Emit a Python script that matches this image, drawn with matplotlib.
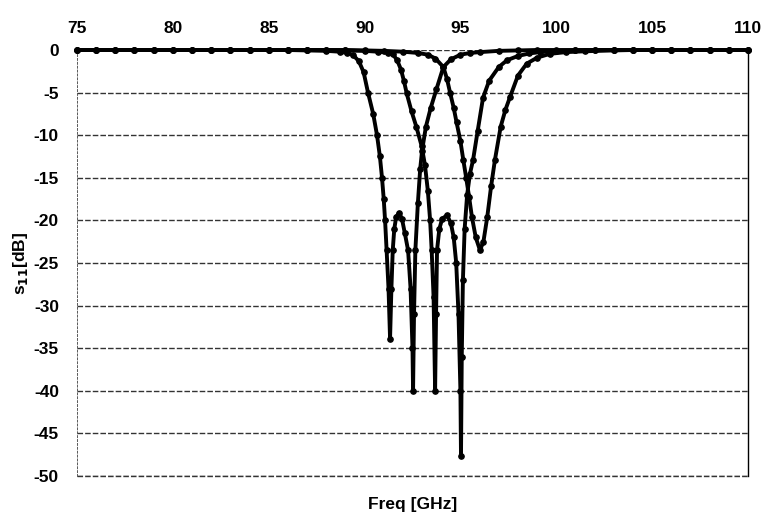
"""S11 response of three filter designs, redrawn from a scanned plot."""
import matplotlib
matplotlib.use("Agg")
import matplotlib.pyplot as plt

plt.rcParams["font.family"] = ["Liberation Sans", "DejaVu Sans"]
plt.rcParams["mathtext.default"] = "bf"
plt.rcParams["axes.unicode_minus"] = False

# curve A: two-pole response, dips near 91.3 and 92.5 GHz
freq_a = [75, 76, 77, 78, 79, 80, 81, 82, 83, 84, 85, 86, 87, 88, 88.7, 89.1,
          89.4, 89.7, 89.95, 90.18, 90.45, 90.65, 90.8, 90.91, 91.0, 91.07,
          91.15, 91.25, 91.33, 91.4, 91.47, 91.55, 91.65, 91.8, 91.95, 92.1,
          92.27, 92.4, 92.5, 92.53, 92.58, 92.65, 92.78, 92.9, 93.0, 93.2,
          93.45, 93.75, 94.11, 94.5, 95.0, 95.5, 96, 97, 98, 99, 100, 101, 102,
          103, 104, 105, 106, 107, 108, 109, 110]
s11_a = [0, 0, 0, 0, 0, 0, 0, 0, 0, 0, 0, 0, -0.05, -0.1, -0.2, -0.35,
         -0.6, -1.3, -2.6, -5, -7.5, -10, -12.5, -15, -17.5, -20,
         -23.5, -28, -33.9, -28, -23.5, -21, -19.6, -19.1, -19.8, -21.5,
         -23.5, -28, -35, -40, -31, -23.5, -18, -14, -11.8, -9,
         -6.8, -4.6, -2.0, -1.1, -0.55, -0.35, -0.25, -0.1, -0.05, 0, 0, 0, 0,
         0, 0, 0, 0, 0, 0, 0, 0]

# curve B: two-pole response, dips near 93.7 and 95.0 GHz
freq_b = [75, 76, 77, 78, 79, 80, 81, 82, 83, 84, 85, 86, 87, 88, 89, 90,
          90.7, 91.2, 91.48, 91.7, 91.9, 92.05, 92.2, 92.45, 92.7, 92.98,
          93.15, 93.3, 93.42, 93.5, 93.6, 93.68, 93.73, 93.78, 93.9, 94.05,
          94.3, 94.5, 94.65, 94.78, 94.9, 95.0, 95.03, 95.07, 95.13, 95.22,
          95.35, 95.5, 95.66, 95.9, 96.18, 96.5, 97.0, 97.43, 98, 98.6, 99.15,
          100, 101, 102, 103, 104, 105, 106, 107, 108, 109, 110]
s11_b = [0, 0, 0, 0, 0, 0, 0, 0, 0, 0, 0, 0, 0, 0, -0.05, -0.1,
         -0.2, -0.3, -0.5, -1.2, -2.3, -3.6, -5.1, -7.2, -9.0, -11.3,
         -13.5, -16.5, -20, -23.5, -29, -40, -31, -23.5, -21, -19.8,
         -19.4, -20.3, -22, -25, -31, -40, -47.7, -36, -27, -21,
         -17, -14.5, -12.9, -9.5, -5.6, -3.6, -2.0, -1.2, -0.7, -0.4, -0.25,
         -0.1, -0.05, 0, 0, 0, 0, 0, 0, 0, 0, 0]

# curve C: single resonance near 96 GHz
freq_c = [75, 76, 77, 78, 79, 80, 81, 82, 83, 84, 85, 86, 87, 88, 89, 90,
          91, 92, 92.8, 93.3, 93.7, 94.11, 94.3, 94.46, 94.65, 94.8, 95.0,
          95.15, 95.3, 95.45, 95.6, 95.8, 96.02, 96.2, 96.4, 96.6, 96.8, 97.1,
          97.35, 97.59, 98.0, 98.46, 99.0, 99.67, 100.5, 101.5, 103, 104, 105,
          106, 107, 108, 109, 110]
s11_c = [0, 0, 0, 0, 0, 0, 0, 0, 0, 0, 0, 0, 0, 0, 0, -0.05,
         -0.1, -0.2, -0.35, -0.55, -1.0, -2.0, -3.4, -5, -6.8, -8.5, -10.7,
         -12.9, -15, -17.2, -19.6, -22, -23.5, -22.5, -19.6, -16, -12.9, -9,
         -7, -5.5, -3, -1.6, -0.9, -0.45, -0.25, -0.15, -0.05, 0, 0,
         0, 0, 0, 0, 0]

x_ticks = [75, 80, 85, 90, 95, 100, 105, 110]
y_ticks = [0, -5, -10, -15, -20, -25, -30, -35, -40, -45, -50]

fig = plt.figure(figsize=(7.66, 5.23), dpi=100)
ax = fig.add_axes([0.1005, 0.0899, 0.876, 0.8145])

for fx, sy in [(freq_a, s11_a), (freq_b, s11_b), (freq_c, s11_c)]:
    ax.plot(fx, sy, color="black", lw=2.8, marker="o", ms=3.8,
            mec="black", mfc="black", clip_on=False, zorder=3)

ax.set_xlim(75, 110)
ax.set_ylim(-50, 0)
ax.set_xticks(x_ticks)
ax.set_yticks(y_ticks)
ax.xaxis.tick_top()
ax.tick_params(axis="x", length=0, pad=10, labelsize=12.5)
ax.tick_params(axis="y", length=0, pad=13, labelsize=12.5)
for lab in ax.get_xticklabels() + ax.get_yticklabels():
    lab.set_fontweight("bold")

ax.grid(axis="y", color="0.2", lw=1.0, linestyle=(0, (4, 1.5)))
ax.grid(axis="x", visible=False)
ax.set_axisbelow(True)
# bottom gridline sits on the frame edge, draw it unclipped
ax.axhline(-50, color="0.2", lw=1.0, linestyle=(0, (4, 1.5)), clip_on=False)

ax.spines["top"].set_visible(False)
ax.spines["bottom"].set_visible(False)
ax.spines["left"].set_linestyle((0, (2, 2)))
ax.spines["left"].set_linewidth(0.7)
ax.spines["left"].set_color("0.35")
ax.spines["right"].set_linewidth(1.0)

ax.set_xlabel("Freq [GHz]", fontsize=12.5, fontweight="bold", labelpad=0)
ax.xaxis.set_label_position("bottom")
ax.xaxis.set_label_coords(0.5, -0.05)
ax.set_ylabel("s$_{11}$[dB]", fontsize=12.5, fontweight="bold")
ax.yaxis.set_label_coords(-0.07, 0.5)

fig.savefig("out.png", dpi=100)
